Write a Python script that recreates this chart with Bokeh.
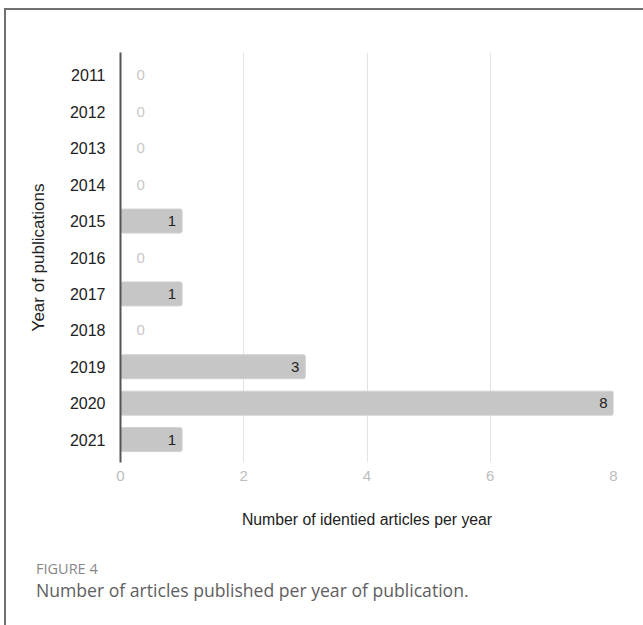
from bokeh.plotting import figure
from bokeh.models import ColumnDataSource, FactorRange, LabelSet, Div, Column
from bokeh.embed import file_html
from bokeh.resources import INLINE
from bokeh.core.properties import value

years = ["2011", "2012", "2013", "2014", "2015", "2016", "2017", "2018", "2019", "2020", "2021"]
counts = [0, 0, 0, 0, 1, 0, 1, 0, 3, 8, 1]
x_ticks = [0, 2, 4, 6, 8]
x_title = "Number of identied articles per year"
y_title = "Year of publications"
fig_tag = "FIGURE 4"
caption = "Number of articles published per year of publication."

src = ColumnDataSource(dict(
    year=years, count=counts,
    lab_pos=[str(c) if c > 0 else "" for c in counts],
    lab_zero=[str(c) if c == 0 else "" for c in counts],
))

p = figure(
    width=637, height=545,
    y_range=FactorRange(*reversed(years), range_padding=0.13, range_padding_units="absolute"),
    x_range=(0, 8),
    output_backend="svg", toolbar_location=None,
    min_border_left=114, min_border_right=30, min_border_top=42, min_border_bottom=93,
)
p.outline_line_color = None
p.background_fill_color = "white"
p.border_fill_color = "white"

p.hbar(y="year", right="count", left=0, height=0.66, source=src,
       fill_color="#c6c6c6", line_color="#d2d2d2", line_width=1, border_radius=2)

p.add_layout(LabelSet(x="count", y="year", text="lab_pos", source=src,
                      text_align="right", text_baseline="middle", x_offset=-6,
                      text_color="#222222", text_font=value("Liberation Sans"),
                      text_font_size="15px"))
p.add_layout(LabelSet(x="count", y="year", text="lab_zero", source=src,
                      text_align="left", text_baseline="middle", x_offset=16,
                      text_color="#c8c8c8", text_font=value("Liberation Sans"),
                      text_font_size="15px"))

p.xgrid.grid_line_color = "#e3e3e3"
p.xgrid.grid_line_width = 1
p.ygrid.grid_line_color = None

p.xaxis.ticker = x_ticks
p.xaxis.axis_line_color = None
p.xaxis.major_tick_line_color = None
p.xaxis.minor_tick_line_color = None
p.xaxis.major_label_text_color = "#bdbdbd"
p.xaxis.major_label_text_font = "Liberation Sans"
p.xaxis.major_label_text_font_size = "15px"
p.xaxis.major_label_standoff = 2
p.xaxis.axis_label = x_title
p.xaxis.axis_label_text_font = "Liberation Sans"
p.xaxis.axis_label_text_font_style = "normal"
p.xaxis.axis_label_text_font_size = "15.8px"
p.xaxis.axis_label_text_color = "#222222"
p.xaxis.axis_label_standoff = 27

p.yaxis.axis_line_color = "#555555"
p.yaxis.axis_line_width = 2
p.yaxis.major_tick_line_color = None
p.yaxis.minor_tick_line_color = None
p.yaxis.major_label_text_color = "#222222"
p.yaxis.major_label_text_font = "Liberation Sans"
p.yaxis.major_label_text_font_size = "16px"
p.yaxis.major_label_standoff = 9
p.yaxis.axis_label = y_title
p.yaxis.axis_label_text_font = "Liberation Sans"
p.yaxis.axis_label_text_font_style = "normal"
p.yaxis.axis_label_text_font_size = "17px"
p.yaxis.axis_label_text_color = "#222222"
p.yaxis.axis_label_standoff = 19

cap = Div(
    width=637, height=70,
    text=(
        '<div style="padding-left:25px;padding-top:0px;font-family:\'Open Sans\';">'
        f'<div style="font-size:14.5px;line-height:18px;color:#888888;">{fig_tag}</div>'
        f'<div style="font-size:17.6px;line-height:24px;color:#606060;margin-top:0px;">{caption}</div>'
        '</div>'
    ),
)

layout = Column(
    p, cap, spacing=0,
    styles={"border-left": "2px solid #707070", "border-top": "2px solid #707070",
            "margin-left": "4px", "margin-top": "8px", "background": "white"},
)

open("out.html", "w").write(file_html(layout, INLINE))
